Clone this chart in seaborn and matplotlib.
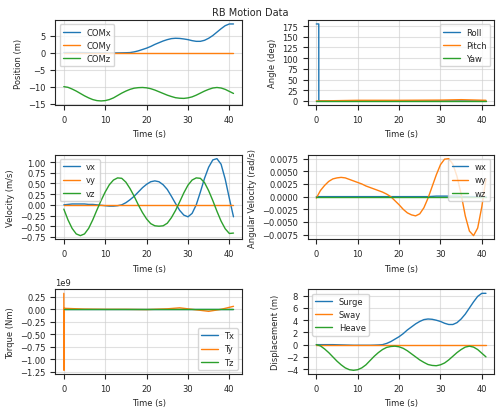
import numpy as np
import pandas as pd
import matplotlib
matplotlib.use("Agg")
import matplotlib.pyplot as plt
from matplotlib.ticker import MultipleLocator
import seaborn as sns

t = list(range(42))
surge = [0,0,0,0,0,-0.02,-0.04,-0.06,-0.08,-0.1,-0.1,-0.1,-0.1,-0.1,-0.08,-0.05,0.0,0.2,0.5,0.9,1.3,1.8,2.4,2.9,3.4,3.8,4.1,4.2,4.15,4.0,3.8,3.5,3.3,3.3,3.6,4.2,5.0,6.0,7.0,7.9,8.4,8.4]
sway = [0]*42
heave = [0,-0.2,-0.7,-1.3,-2.0,-2.7,-3.3,-3.8,-4.1,-4.2,-4.1,-3.8,-3.3,-2.6,-1.9,-1.3,-0.8,-0.45,-0.3,-0.25,-0.35,-0.6,-1.0,-1.5,-2.0,-2.5,-2.9,-3.25,-3.4,-3.45,-3.3,-3.0,-2.5,-1.9,-1.3,-0.8,-0.4,-0.25,-0.4,-0.8,-1.4,-2.0]
com_x = surge
com_y = [0]*42
com_z = [-10,-10.2,-10.7,-11.3,-12.0,-12.7,-13.3,-13.8,-14.1,-14.2,-14.1,-13.8,-13.3,-12.6,-11.9,-11.3,-10.8,-10.45,-10.3,-10.25,-10.35,-10.6,-11.0,-11.5,-12.0,-12.5,-12.9,-13.25,-13.4,-13.45,-13.3,-13.0,-12.5,-11.9,-11.3,-10.8,-10.4,-10.25,-10.4,-10.8,-11.4,-12.0]

vx = [0,0.01,0.02,0.02,0.02,0.02,0.01,0.01,0.0,-0.01,-0.02,-0.03,-0.03,-0.02,0.0,0.05,0.12,0.2,0.3,0.4,0.48,0.54,0.56,0.54,0.47,0.36,0.2,0.03,-0.13,-0.24,-0.28,-0.2,0.0,0.3,0.62,0.88,1.05,1.08,0.95,0.6,0.15,-0.28]
vy = [0]*42
vz = [-0.1,-0.35,-0.55,-0.68,-0.72,-0.68,-0.55,-0.35,-0.12,0.1,0.3,0.47,0.58,0.63,0.62,0.53,0.38,0.2,0.0,-0.18,-0.33,-0.44,-0.49,-0.5,-0.49,-0.43,-0.3,-0.13,0.07,0.28,0.46,0.58,0.63,0.62,0.52,0.33,0.1,-0.15,-0.38,-0.56,-0.67,-0.66]

wx = [0]*28 + [0.00005,0.0001,0.0001,0.0001,0.0001,0.0001,0.0001,0.00005,0,0,0,0,0,0]
wy = [-0.0003,0.0012,0.0022,0.003,0.0035,0.0037,0.0038,0.0037,0.0034,0.0031,0.0028,0.0025,0.0021,0.0018,0.0015,0.0012,0.0009,0.0005,0.0,-0.0008,-0.0016,-0.0025,-0.0032,-0.0036,-0.0038,-0.0034,-0.0022,-0.0003,0.002,0.0043,0.0063,0.0074,0.0075,0.0064,0.004,0.0005,-0.0038,-0.0068,-0.0077,-0.0062,-0.002,0.0035]
wz = [0]*42

ang_t = [0,0.6,0.61,10,20,30,35,41]
roll = [180,180,0,0,0,0,0,0]
pitch = [0,0,0,1.5,1.5,2,3,1.5]
yaw = [0]*8

tq_t = [0,0.05,0.1,0.2,5,10,15,20,25,28,31,35,38,41]
tx = [0]*14
ty = [0.32e9,-1.22e9,0.02e9,0.02e9,0.005e9,0,0,-0.005e9,0.01e9,0.03e9,0.0,-0.04e9,0.0,0.06e9]
tz = [0]*14

sns.set_style("ticks")
plt.rcParams['font.family'] = ['DejaVu Sans']
fig, axes = plt.subplots(3, 2, figsize=(5, 4.14), dpi=100)
pal = sns.color_palette("tab10")

def panel(ax, x, series, ylabel, loc, step=None):
    for i, (name, y) in enumerate(series):
        sns.lineplot(x=x, y=y, ax=ax, label=name, color=pal[i], lw=1,
                     sort=False, estimator=None)
    ax.set_xlabel("Time (s)", fontsize=6)
    ax.set_ylabel(ylabel, fontsize=6)
    ax.tick_params(labelsize=6)
    if step:
        ax.yaxis.set_major_locator(MultipleLocator(step))
    ax.grid(True, alpha=0.6)
    ax.legend(fontsize=6, loc=loc)
    ax.yaxis.get_offset_text().set_fontsize(6)

panel(axes[0,0], t, [("COMx",com_x),("COMy",com_y),("COMz",com_z)], "Position (m)", "upper left", 5)
panel(axes[0,1], ang_t, [("Roll",roll),("Pitch",pitch),("Yaw",yaw)], "Angle (deg)", "upper right", 25)
panel(axes[1,0], t, [("vx",vx),("vy",vy),("vz",vz)], "Velocity (m/s)", "upper left", 0.25)
panel(axes[1,1], t, [("wx",wx),("wy",wy),("wz",wz)], "Angular Velocity (rad/s)", "upper right", 0.0025)
panel(axes[2,0], tq_t, [("Tx",tx),("Ty",ty),("Tz",tz)], "Torque (Nm)", "lower right", 0.25e9)
panel(axes[2,1], t, [("Surge",surge),("Sway",sway),("Heave",heave)], "Displacement (m)", "upper left", 2)
for ax in axes.flat:
    ax.set_xticks([0,10,20,30,40])
fig.suptitle("RB Motion Data", fontsize=7)
fig.tight_layout(pad=0.4)
fig.savefig("out.png")
